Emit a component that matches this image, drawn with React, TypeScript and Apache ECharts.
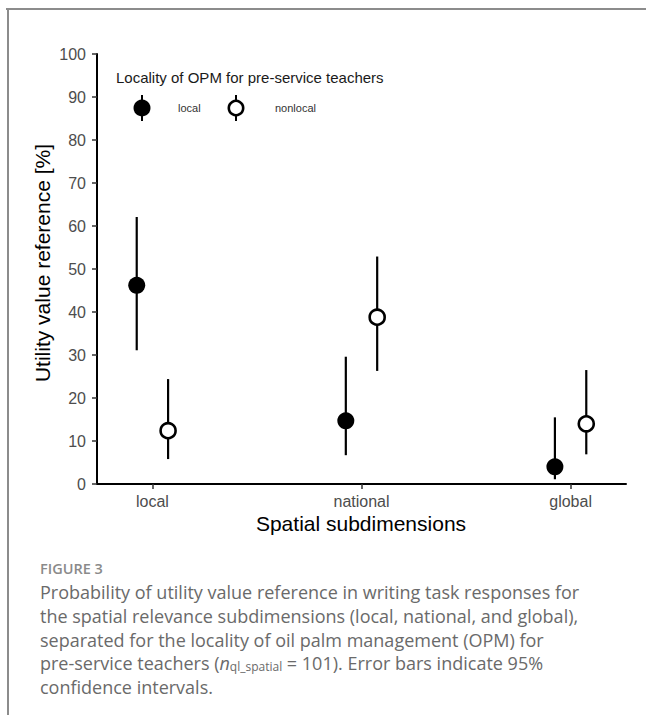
import React, { useEffect, useRef } from "react";
import * as echarts from "echarts";

const categories = ["local", "national", "global"];
const groups = ["local", "nonlocal"];
const localMean = [46.2, 14.7, 4.0];
const localLow = [31.1, 6.7, 1.1];
const localHigh = [62.1, 29.6, 15.5];
const nonlocalMean = [12.4, 38.8, 14.0];
const nonlocalLow = [5.8, 26.3, 6.9];
const nonlocalHigh = [24.4, 52.9, 26.5];
const yTicks = [0, 10, 20, 30, 40, 50, 60, 70, 80, 90, 100];

const legendTitle = "Locality of OPM for pre-service teachers";
const yTitle = "Utility value reference [%]";
const xTitle = "Spatial subdimensions";
const figLabel = "FIGURE 3";
const captionLines = [
  "Probability of utility value reference in writing task responses for",
  "the spatial relevance subdimensions (local, national, and global),",
  "separated for the locality of oil palm management (OPM) for",
  "{a|pre-service teachers (}{it|n}{sub|ql_spatial}{a| = 101). Error bars indicate 95%}",
  "confidence intervals.",
];

const DODGE = 0.075;
const FONT = "Liberation Sans, Arial, sans-serif";
const CAP_FONT = "Open Sans, sans-serif";
const CAP_SIZE = 18;

export default function App() {
  const ref = useRef<HTMLDivElement>(null);
  useEffect(() => {
    if (!ref.current) return;
    const chart = echarts.init(ref.current, undefined, { renderer: "svg" });

    const mk = (mean: number[], low: number[], high: number[], off: number) =>
      categories.map((_, i) => ({ x: i + 1 + off, m: mean[i], l: low[i], h: high[i] }));
    const gL = mk(localMean, localLow, localHigh, -DODGE);
    const gN = mk(nonlocalMean, nonlocalLow, nonlocalHigh, DODGE);

    const errSeries = (d: any[], name: string) => ({
      type: "custom",
      name,
      z: 2,
      data: d.map((p) => [p.x, p.l, p.h]),
      renderItem: (params: any, api: any) => {
        const a = api.coord([api.value(0), api.value(1)]);
        const b = api.coord([api.value(0), api.value(2)]);
        return {
          type: "line",
          shape: { x1: a[0], y1: a[1], x2: b[0], y2: b[1] },
          style: { stroke: "#000", lineWidth: 2.2 },
        };
      },
    });

    const capTexts = captionLines.map((t, i) => ({
      type: "text",
      x: 40,
      y: 592 + i * 23.8,
      style: {
        text: t,
        font: `${CAP_SIZE}px ${CAP_FONT}`,
        fill: "#6a6a6a",
        verticalAlign: "middle",
        rich: {
          a: { fontSize: CAP_SIZE, fontFamily: CAP_FONT, fill: "#6a6a6a" },
          it: { fontSize: CAP_SIZE, fontFamily: CAP_FONT, fontStyle: "italic", fill: "#6a6a6a" },
          sub: { fontSize: 12, fontFamily: CAP_FONT, fill: "#6a6a6a", verticalAlign: "bottom", padding: [4, 0, 0, 0] },
        },
      },
    }));

    chart.setOption({
      animation: false,
      backgroundColor: "#fff",
      grid: { left: 97, top: 54, right: 20, height: 430 },
      xAxis: {
        type: "value",
        min: 0.735,
        max: 3.265,
        splitLine: { show: false },
        axisLine: { show: true, lineStyle: { color: "#000", width: 2 } },
        axisTick: { show: true, customValues: [1, 2, 3], length: 5, lineStyle: { color: "#333", width: 1.5 } },
        axisLabel: {
          customValues: [1, 2, 3],
          formatter: (v: number) => categories[Math.round(v) - 1],
          color: "#4d4d4d",
          fontSize: 16,
          fontFamily: FONT,
          margin: 9,
        },
      },
      yAxis: {
        type: "value",
        min: 0,
        max: 100,
        interval: 10,
        splitLine: { show: false },
        axisLine: { show: true, lineStyle: { color: "#000", width: 2 } },
        axisTick: { show: true, length: 5, lineStyle: { color: "#333", width: 1.5 } },
        axisLabel: {
          color: "#4d4d4d",
          fontSize: 16,
          fontFamily: FONT,
          margin: 11,
          formatter: (v: number) => (yTicks.includes(v) ? String(v) : ""),
        },
      },
      series: [
        errSeries(gL, groups[0]),
        errSeries(gN, groups[1]),
        {
          type: "scatter",
          name: groups[0],
          z: 3,
          symbol: "circle",
          symbolSize: 17,
          itemStyle: { color: "#000", borderColor: "#000", borderWidth: 0, opacity: 1 },
          data: gL.map((p) => [p.x, p.m]),
        },
        {
          type: "scatter",
          name: groups[1],
          z: 3,
          symbol: "circle",
          symbolSize: 15,
          itemStyle: { color: "#fff", borderColor: "#000", borderWidth: 2.6, opacity: 1 },
          data: gN.map((p) => [p.x, p.m]),
        },
      ],
      graphic: [
        // frame
        { type: "line", shape: { x1: 6, y1: 9, x2: 646, y2: 9 }, style: { stroke: "#8c8c8c", lineWidth: 2 } },
        { type: "line", shape: { x1: 8, y1: 8, x2: 8, y2: 715 }, style: { stroke: "#8c8c8c", lineWidth: 2 } },
        // legend
        {
          type: "text",
          x: 116,
          y: 77,
          style: { text: legendTitle, font: `15px ${FONT}`, fill: "#1a1a1a", verticalAlign: "middle" },
        },
        { type: "line", shape: { x1: 142, y1: 95, x2: 142, y2: 121 }, style: { stroke: "#000", lineWidth: 2 } },
        { type: "circle", shape: { cx: 142, cy: 108, r: 8.5 }, style: { fill: "#000" } },
        {
          type: "text",
          x: 178,
          y: 108,
          style: { text: groups[0], font: `11px ${FONT}`, fill: "#333", verticalAlign: "middle" },
        },
        { type: "line", shape: { x1: 236, y1: 95, x2: 236, y2: 121 }, style: { stroke: "#000", lineWidth: 2 } },
        { type: "circle", shape: { cx: 236, cy: 108, r: 7.2 }, style: { fill: "#fff", stroke: "#000", lineWidth: 2.6 } },
        {
          type: "text",
          x: 275,
          y: 108,
          style: { text: groups[1], font: `11px ${FONT}`, fill: "#333", verticalAlign: "middle" },
        },
        // axis titles
        {
          type: "text",
          x: 42,
          y: 263,
          rotation: Math.PI / 2,
          style: { text: yTitle, font: `21px ${FONT}`, fill: "#000", align: "center", verticalAlign: "middle" },
        },
        {
          type: "text",
          x: 361,
          y: 523,
          style: { text: xTitle, font: `21px ${FONT}`, fill: "#000", align: "center", verticalAlign: "middle" },
        },
        // caption
        {
          type: "text",
          x: 40,
          y: 568,
          style: { text: figLabel, font: `600 14.5px ${CAP_FONT}`, fill: "#8a8a8a", verticalAlign: "middle" },
        },
        ...capTexts,
      ],
    });
    return () => chart.dispose();
  }, []);
  return (
    <div
      ref={ref}
      style={{ position: "absolute", left: 0, top: 0, width: 646, height: 715, background: "#fff" }}
    />
  );
}
